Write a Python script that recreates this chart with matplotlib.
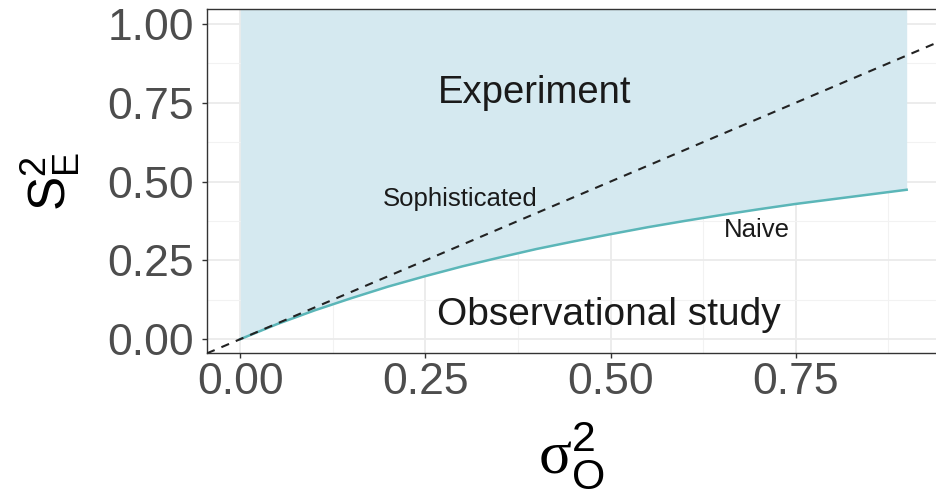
import matplotlib
matplotlib.use("Agg")
import matplotlib.pyplot as plt
import numpy as np

# Data
sigma_o = [0.00, 0.05, 0.10, 0.15, 0.20, 0.25, 0.30, 0.35, 0.40, 0.45,
           0.50, 0.55, 0.60, 0.65, 0.70, 0.75, 0.80, 0.85, 0.90]
naive = [0.000, 0.048, 0.091, 0.130, 0.167, 0.200, 0.231, 0.259, 0.286, 0.310,
         0.333, 0.355, 0.375, 0.394, 0.412, 0.429, 0.444, 0.459, 0.474]
soph_slope = 1.0  # dashed line y = x
x_ticks = [0.00, 0.25, 0.50, 0.75]
y_ticks = [0.00, 0.25, 0.50, 0.75, 1.00]
tick_labels_x = ["0.00", "0.25", "0.50", "0.75"]
tick_labels_y = ["0.00", "0.25", "0.50", "0.75", "1.00"]

plt.rcParams['font.family'] = ['Liberation Sans', 'DejaVu Sans']
plt.rcParams['mathtext.fontset'] = 'custom'
plt.rcParams['mathtext.rm'] = 'Liberation Sans'
plt.rcParams['mathtext.it'] = 'Liberation Sans'
plt.rcParams['mathtext.tt'] = 'Liberation Serif'

fig = plt.figure(figsize=(9.36, 4.94), dpi=100)
ax = fig.add_axes([207/936, (494-353)/494, (940-207)/936, (353-9.5)/494])

xlim = (-0.045, 0.945)
ylim = (-0.044, 1.046)

ax.fill_between(sigma_o, naive, [1.2]*len(sigma_o), color='#d5e9f0', lw=0, zorder=1)
ax.plot(sigma_o, naive, color='#5bb6b8', lw=1.8, zorder=3)
xs = np.array(xlim)
ax.plot(xs, soph_slope*xs, color='#222222', lw=1.5, ls=(0, (4, 3.5)), zorder=4)

ax.set_xlim(*xlim)
ax.set_ylim(*ylim)
ax.set_xticks(x_ticks)
ax.set_xticklabels(tick_labels_x)
ax.set_yticks(y_ticks)
ax.set_yticklabels(tick_labels_y)
ax.set_xticks([0.125, 0.375, 0.625, 0.875], minor=True)
ax.set_yticks([0.125, 0.375, 0.625, 0.875], minor=True)
ax.grid(which='major', color='#ebebeb', lw=1.3, zorder=0)
ax.grid(which='minor', color='#f2f2f2', lw=0.8, zorder=0)
ax.set_axisbelow(True)
ax.tick_params(which='minor', length=0)
ax.tick_params(which='major', length=3.6, width=1, color='#333333', labelsize=32,
               labelcolor='#4d4d4d')
ax.tick_params(axis='y', pad=6)
ax.tick_params(axis='x', pad=3)
for s in ax.spines.values():
    s.set_color('#333333')
    s.set_linewidth(1)

ax.text(0.398, 0.75, "Experiment", fontsize=27.5, ha='center', va='baseline', color='#1a1a1a', zorder=5)
ax.text(0.498, 0.044, "Observational study", fontsize=28, ha='center', va='baseline', color='#1a1a1a', zorder=5)
ax.text(0.297, 0.424, "Sophisticated", fontsize=18.5, ha='center', va='baseline', color='#1a1a1a', zorder=5)
ax.text(0.698, 0.323, "Naive", fontsize=18.5, ha='center', va='baseline', color='#1a1a1a', zorder=5)

fig.text(50/936, 1-181/494, r'$\mathrm{S}_{\mathrm{E}}^{2}$', fontsize=37, rotation=90,
         ha='center', va='center', color='black')
fig.text(571/936, 1-455/494, r'$\mathtt{\sigma}_{\mathrm{O}}^{2}$', fontsize=44,
         ha='center', va='center', color='black')

fig.savefig("out.png", dpi=100)
